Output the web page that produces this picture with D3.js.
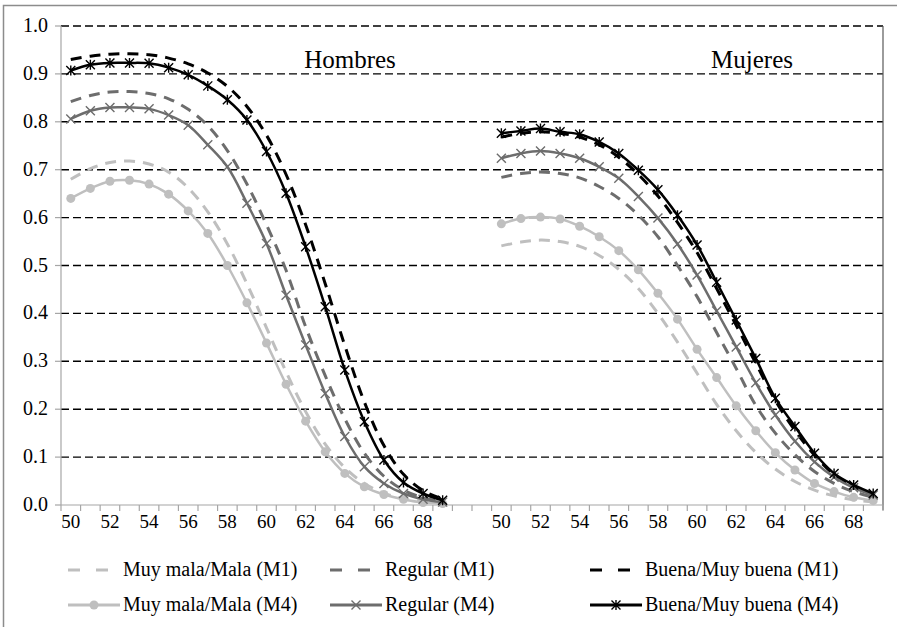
<!DOCTYPE html>
<html>
<head>
<meta charset="utf-8">
<script src="https://d3js.org/d3.v7.min.js"></script>
<style>
  body { margin: 0; background: #fff; }
  svg text { font-family: "Liberation Serif", "Times New Roman", Tinos, "DejaVu Serif", serif; fill: #000; }
</style>
</head>
<body>
<div id="chart"></div>
<script>
// ages shown on both panels
var ages = d3.range(50, 70);
var tickAges = [50, 52, 54, 56, 58, 60, 62, 64, 66, 68];
var yTicks = [0, 0.1, 0.2, 0.3, 0.4, 0.5, 0.6, 0.7, 0.8, 0.9, 1.0];
var panels = ["Hombres", "Mujeres"];

// Hombres
var hMalaM1 = [0.680,0.702,0.715,0.718,0.712,0.695,0.662,0.612,0.545,0.462,0.370,0.278,0.195,0.127,0.078,0.045,0.025,0.013,0.007,0.003];
var hRegM1  = [0.842,0.855,0.862,0.863,0.859,0.848,0.826,0.792,0.740,0.670,0.585,0.490,0.372,0.270,0.180,0.108,0.060,0.031,0.015,0.007];
var hBuenaM1 = [0.930,0.937,0.941,0.942,0.940,0.933,0.921,0.902,0.874,0.832,0.772,0.690,0.585,0.462,0.333,0.215,0.124,0.064,0.030,0.013];
var hMalaM4 = [0.640,0.661,0.676,0.678,0.670,0.649,0.614,0.567,0.500,0.422,0.338,0.252,0.175,0.111,0.066,0.038,0.022,0.012,0.005,0.003];
var hRegM4  = [0.806,0.823,0.830,0.830,0.827,0.814,0.793,0.752,0.706,0.630,0.546,0.438,0.334,0.233,0.143,0.080,0.045,0.024,0.012,0.006];
var hBuenaM4 = [0.907,0.919,0.923,0.923,0.922,0.913,0.898,0.875,0.846,0.804,0.738,0.651,0.539,0.414,0.282,0.174,0.094,0.047,0.024,0.010];

// Mujeres
var mMalaM1 = [0.541,0.549,0.553,0.550,0.540,0.521,0.492,0.452,0.400,0.340,0.275,0.210,0.155,0.110,0.075,0.049,0.031,0.019,0.011,0.006];
var mRegM1  = [0.684,0.692,0.695,0.692,0.683,0.665,0.640,0.605,0.560,0.500,0.435,0.360,0.285,0.208,0.150,0.105,0.070,0.045,0.028,0.016];
var mBuenaM1 = [0.768,0.776,0.779,0.776,0.768,0.752,0.726,0.690,0.645,0.590,0.527,0.452,0.375,0.296,0.218,0.156,0.104,0.064,0.039,0.022];
var mMalaM4 = [0.587,0.598,0.601,0.597,0.582,0.560,0.531,0.491,0.442,0.388,0.325,0.266,0.207,0.155,0.109,0.073,0.045,0.028,0.016,0.009];
var mRegM4  = [0.724,0.734,0.739,0.734,0.724,0.706,0.682,0.644,0.599,0.545,0.480,0.405,0.330,0.255,0.188,0.133,0.090,0.058,0.036,0.021];
var mBuenaM4 = [0.776,0.781,0.786,0.779,0.774,0.758,0.734,0.699,0.658,0.605,0.543,0.465,0.386,0.306,0.223,0.164,0.108,0.066,0.042,0.024];

var seriesNames = ["Muy mala/Mala (M1)", "Regular (M1)", "Buena/Muy buena (M1)",
                   "Muy mala/Mala (M4)", "Regular (M4)", "Buena/Muy buena (M4)"];

var width = 897, height = 627;

var svg = d3.select("#chart").append("svg")
    .attr("width", width)
    .attr("height", height);

// outer chart border
svg.append("rect")
    .attr("x", 3.5).attr("y", 5.5)
    .attr("width", 920).attr("height", 660)
    .attr("fill", "none")
    .attr("stroke", "#8c8c8c")
    .attr("stroke-width", 1.5);

// one category axis: hombres, two empty slots, mujeres
var keys = ages.map(function(a) { return "H" + a; })
    .concat(["g1", "g2"])
    .concat(ages.map(function(a) { return "M" + a; }));

var plotL = 61, plotR = 883, plotT = 26, plotB = 505;

var x = d3.scaleBand().domain(keys).range([plotL, plotR]).padding(0);
var y = d3.scaleLinear().domain([0, 1]).range([plotB, plotT]);

// gridlines
svg.append("g").selectAll("line")
    .data(yTicks.slice(1))
    .enter().append("line")
    .attr("x1", plotL).attr("x2", plotR)
    .attr("y1", function(d) { return y(d); })
    .attr("y2", function(d) { return y(d); })
    .attr("stroke", "#000")
    .attr("stroke-width", 1.4)
    .attr("stroke-dasharray", "8,4");

// y axis
var yAxis = svg.append("g");
yAxis.append("line")
    .attr("x1", plotL).attr("x2", plotL).attr("y1", plotT).attr("y2", plotB)
    .attr("stroke", "#a6a6a6").attr("stroke-width", 1.2);
yAxis.selectAll(".yt")
    .data(yTicks).enter().append("line")
    .attr("x1", plotL - 6).attr("x2", plotL)
    .attr("y1", function(d) { return y(d); })
    .attr("y2", function(d) { return y(d); })
    .attr("stroke", "#a6a6a6").attr("stroke-width", 1.2);
yAxis.selectAll("text")
    .data(yTicks).enter().append("text")
    .attr("x", 48)
    .attr("y", function(d) { return y(d) + 6; })
    .attr("text-anchor", "end")
    .style("font-size", "20px")
    .text(function(d) { return d3.format(".1f")(d); });

// right border of plot area
svg.append("line")
    .attr("x1", plotR).attr("x2", plotR).attr("y1", plotT).attr("y2", plotB + 5)
    .attr("stroke", "#595959").attr("stroke-width", 1.2);

// x axis
var xAxis = svg.append("g");
xAxis.append("line")
    .attr("x1", plotL).attr("x2", plotR).attr("y1", plotB).attr("y2", plotB)
    .attr("stroke", "#a6a6a6").attr("stroke-width", 1.2);
var bounds = keys.map(function(k) { return x(k); }).concat([plotR]);
xAxis.selectAll(".xt")
    .data(bounds).enter().append("line")
    .attr("x1", function(d) { return d; })
    .attr("x2", function(d) { return d; })
    .attr("y1", plotB).attr("y2", plotB + 6)
    .attr("stroke", "#a6a6a6").attr("stroke-width", 1.2);
["H", "M"].forEach(function(p) {
    xAxis.append("g").selectAll("text")
        .data(tickAges).enter().append("text")
        .attr("x", function(d) { return x(p + d) + x.bandwidth() / 2; })
        .attr("y", 528)
        .attr("text-anchor", "middle")
        .style("font-size", "19px")
        .text(function(d) { return d; });
});

// panel titles
svg.append("text").attr("x", 350).attr("y", 68).attr("text-anchor", "middle")
    .style("font-size", "25px").text(panels[0]);
svg.append("text").attr("x", 752).attr("y", 68).attr("text-anchor", "middle")
    .style("font-size", "25px").text(panels[1]);

var styles = [
    { color: "#bfbfbf", dash: "11,8", width: 3, marker: null },
    { color: "#6d6d6d", dash: "11,8", width: 3, marker: null },
    { color: "#000000", dash: "11,8", width: 3, marker: null },
    { color: "#bfbfbf", dash: null, width: 2.5, marker: "circle" },
    { color: "#6d6d6d", dash: null, width: 2.5, marker: "x" },
    { color: "#000000", dash: null, width: 2.5, marker: "star" }
];

var hSeries = [hMalaM1, hRegM1, hBuenaM1, hMalaM4, hRegM4, hBuenaM4];
var mSeries = [mMalaM1, mRegM1, mBuenaM1, mMalaM4, mRegM4, mBuenaM4];

var line = d3.line()
    .x(function(d) { return x(d.key) + x.bandwidth() / 2; })
    .y(function(d) { return y(d.v); })
    .curve(d3.curveCatmullRom.alpha(0.5));

function drawMarker(g, st, cx, cy) {
    if (st.marker === "circle") {
        g.append("circle").attr("cx", cx).attr("cy", cy).attr("r", 4.5)
            .attr("fill", st.color);
    } else {
        var s = 4.5;
        var p = "M" + (cx - s) + "," + (cy - s) + "L" + (cx + s) + "," + (cy + s) +
                "M" + (cx - s) + "," + (cy + s) + "L" + (cx + s) + "," + (cy - s);
        if (st.marker === "star") p += "M" + cx + "," + (cy - s - 0.5) + "L" + cx + "," + (cy + s + 0.5);
        g.append("path").attr("d", p).attr("stroke", st.color)
            .attr("stroke-width", 1.4).attr("fill", "none");
    }
}

function drawSeries(prefix, vals, st) {
    var pts = ages.map(function(a, i) { return { key: prefix + a, v: vals[i] }; });
    var g = svg.append("g");
    var path = g.append("path")
        .attr("d", line(pts))
        .attr("fill", "none")
        .attr("stroke", st.color)
        .attr("stroke-width", st.width);
    if (st.dash) path.attr("stroke-dasharray", st.dash);
    if (st.marker) {
        pts.forEach(function(d) {
            drawMarker(g, st, x(d.key) + x.bandwidth() / 2, y(d.v));
        });
    }
}

styles.forEach(function(st, i) {
    drawSeries("H", hSeries[i], st);
    drawSeries("M", mSeries[i], st);
});

// legend
var legendCols = [68, 330, 590];
var legendRows = [570, 605];
seriesNames.forEach(function(name, i) {
    var st = styles[i];
    var col = i % 3, row = Math.floor(i / 3);
    var lx = legendCols[col], ly = legendRows[row];
    var g = svg.append("g");
    if (st.dash) {
        g.append("line").attr("x1", lx).attr("x2", lx + 40)
            .attr("y1", ly).attr("y2", ly)
            .attr("stroke", st.color).attr("stroke-width", st.width)
            .attr("stroke-dasharray", "12,16");
    } else {
        g.append("line").attr("x1", lx).attr("x2", lx + 52)
            .attr("y1", ly).attr("y2", ly)
            .attr("stroke", st.color).attr("stroke-width", st.width + 0.5);
        drawMarker(g, st, lx + 26, ly);
    }
    g.append("text")
        .attr("x", lx + 55)
        .attr("y", ly + 6)
        .style("font-size", "20px")
        .text(name);
});
</script>
</body>
</html>
